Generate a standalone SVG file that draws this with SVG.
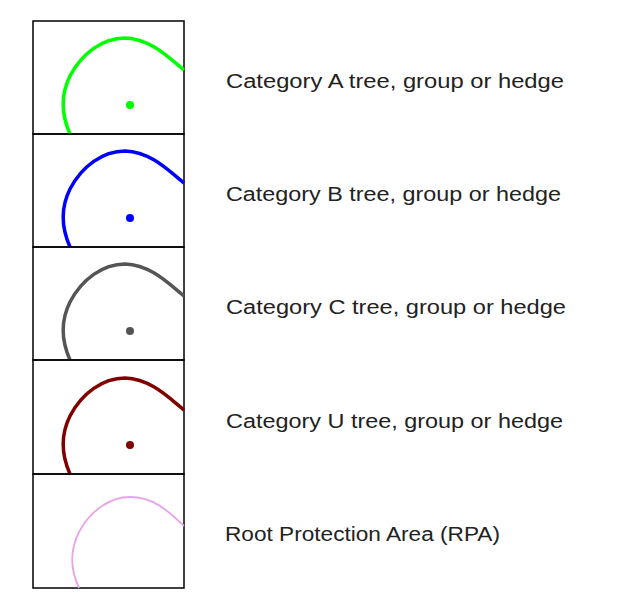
<svg xmlns="http://www.w3.org/2000/svg" width="635" height="606" viewBox="0 0 635 606">
<style>
.box{fill:none;stroke:#000;stroke-width:1.5}
.crv{fill:none;stroke-width:3.5;stroke-linecap:butt}
.lbl{font-family:"Century Gothic","URW Gothic","Liberation Sans",sans-serif;font-size:20px;fill:#222}
</style>
<defs>
<path id="arc" d="M70,113 C62,95 60,75 70,55 C82,32 103,17 125,17 C152,18 170,38 184,49"/>
</defs>
<rect width="635" height="606" fill="#fff"/>
<g id="row-a">
<rect class="box" x="33" y="21" width="151" height="113"/>
<use href="#arc" x="0" y="21" class="crv" stroke="#00ff00"/>
<circle cx="130" cy="105" r="4" fill="#00ff00"/>
<text class="lbl" x="226" y="88" textLength="338" lengthAdjust="spacingAndGlyphs">Category A tree, group or hedge</text>
</g>
<g id="row-b">
<rect class="box" x="33" y="134" width="151" height="113"/>
<use href="#arc" x="0" y="134" class="crv" stroke="#0000ff"/>
<circle cx="130" cy="218" r="4" fill="#0000ff"/>
<text class="lbl" x="226" y="201" textLength="335" lengthAdjust="spacingAndGlyphs">Category B tree, group or hedge</text>
</g>
<g id="row-c">
<rect class="box" x="33" y="247" width="151" height="113"/>
<use href="#arc" x="0" y="247" class="crv" stroke="#555555"/>
<circle cx="130" cy="331" r="4" fill="#555555"/>
<text class="lbl" x="226" y="314" textLength="340" lengthAdjust="spacingAndGlyphs">Category C tree, group or hedge</text>
</g>
<g id="row-u">
<rect class="box" x="33" y="360" width="151" height="114"/>
<use href="#arc" x="0" y="361" class="crv" stroke="#800000"/>
<circle cx="130" cy="445" r="4" fill="#800000"/>
<text class="lbl" x="226" y="428" textLength="337" lengthAdjust="spacingAndGlyphs">Category U tree, group or hedge</text>
</g>
<g id="row-rpa">
<rect class="box" x="33" y="474" width="151" height="114"/>
<path d="M79,588 C71,571 69,552 79,532 C90,511 110,497 130,497 C155,497 170,513 184,526" fill="none" stroke="#e8a4e8" stroke-width="1.8"/>
<text class="lbl" x="225" y="541" textLength="275" lengthAdjust="spacingAndGlyphs">Root Protection Area (RPA)</text>
</g>
</svg>
